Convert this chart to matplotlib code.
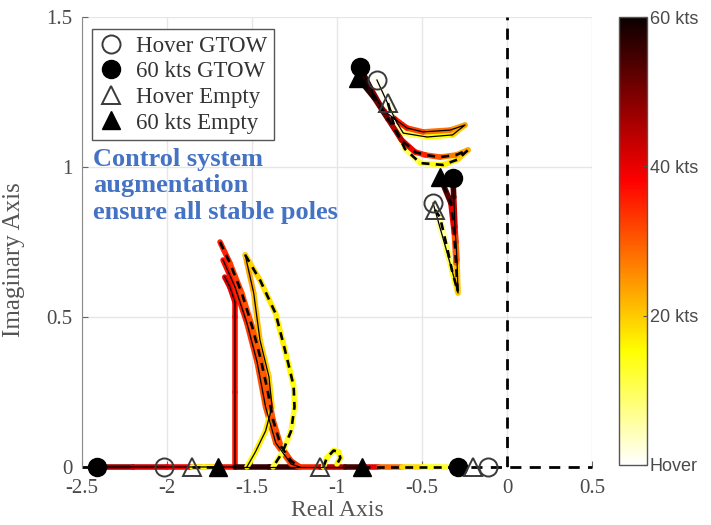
import numpy as np
import matplotlib

matplotlib.use("Agg")

import matplotlib.pyplot as plt
from matplotlib.cm import ScalarMappable
from matplotlib.collections import LineCollection
from matplotlib.colors import Normalize
from matplotlib.lines import Line2D

# ---- data: pole loci (real, imag, airspeed in kts) ----
# upper complex pair, GTOW (solid)
up_gtow_x = [-0.765, -0.70, -0.65, -0.61, -0.47, -0.32, -0.247, -0.335, -0.494, -0.588, -0.66, -0.73, -0.80, -0.865]
up_gtow_y = [1.29, 1.21, 1.15, 1.113, 1.10, 1.107, 1.14, 1.123, 1.117, 1.13, 1.16, 1.19, 1.26, 1.333]
up_gtow_kts = [0, 3, 6, 9, 13, 17, 22, 26, 30, 34, 38, 44, 52, 60]
# upper complex pair, Empty (dashed)
up_empty_x = [-0.70, -0.66, -0.60, -0.51, -0.376, -0.29, -0.229, -0.30, -0.394, -0.48, -0.541, -0.62, -0.70, -0.78, -0.876]
up_empty_y = [1.213, 1.13, 1.06, 1.013, 1.007, 1.025, 1.057, 1.04, 1.033, 1.04, 1.05, 1.09, 1.16, 1.23, 1.297]
up_empty_kts = [0, 4, 8, 12, 15, 18, 21, 25, 29, 33, 37, 42, 48, 54, 60]
# lower complex pair
lo_gtow_x = [-0.435, -0.40, -0.36, -0.324, -0.288, -0.294, -0.30, -0.306, -0.313, -0.318]
lo_gtow_y = [0.88, 0.81, 0.73, 0.657, 0.58, 0.69, 0.75, 0.80, 0.90, 0.963]
lo_gtow_kts = [0, 4, 8, 12, 16, 26, 32, 38, 48, 60]
lo_empty_x = [-0.424, -0.394, -0.353, -0.324, -0.29, -0.30, -0.31, -0.33, -0.394]
lo_empty_y = [0.857, 0.833, 0.733, 0.657, 0.585, 0.68, 0.78, 0.88, 0.967]
lo_empty_kts = [0, 4, 8, 12, 16, 25, 35, 45, 60]
# low-frequency branches near the real axis
lf_red_x = [-2.41, -2.2, -2.0, -1.8, -1.60, -1.60, -1.60, -1.60, -1.63, -1.66]
lf_red_y = [0.0, 0.0, 0.0, 0.0, 0.0, 0.25, 0.50, 0.55, 0.60, 0.633]
lf_red_kts = [50, 45, 40, 38, 36, 36, 37, 38, 40, 42]
lf_dark_x = [-1.60, -1.40, -1.23]
lf_dark_y = [0.0, 0.0, 0.0]
lf_dark_kts = [56, 56, 55]
lf_orange_x = [-1.67, -1.60, -1.53, -1.47, -1.42, -1.36, -1.27, -1.22]
lf_orange_y = [0.69, 0.60, 0.48, 0.35, 0.20, 0.08, 0.01, 0.0]
lf_orange_kts = [38, 36, 34, 32, 30, 30, 32, 34]
lf_yellow_x = [-1.54, -1.49, -1.453, -1.40, -1.382, -1.42, -1.48, -1.53]
lf_yellow_y = [0.707, 0.58, 0.423, 0.30, 0.20, 0.12, 0.05, 0.0]
lf_yellow_kts = [24, 22, 20, 19, 18, 17, 16, 15]
lf_odash_x = [-1.688, -1.63, -1.56, -1.50, -1.45, -1.41, -1.376, -1.33, -1.27, -1.218]
lf_odash_y = [0.75, 0.68, 0.58, 0.47, 0.363, 0.26, 0.157, 0.07, 0.02, 0.0]
lf_odash_kts = [36, 34, 32, 30, 30, 30, 31, 32, 33, 35]
lf_ydash_x = [-1.54, -1.45, -1.36, -1.294, -1.255, -1.25, -1.27, -1.32, -1.376]
lf_ydash_y = [0.707, 0.62, 0.51, 0.363, 0.27, 0.20, 0.12, 0.05, 0.0]
lf_ydash_kts = [20, 18, 17, 16, 15, 14, 13, 12, 12]
arc_x = [-1.08, -1.06, -1.02, -0.99, -0.98, -1.0]
arc_y = [0.0, 0.03, 0.055, 0.05, 0.03, 0.01]
arc_kts = [14, 14, 15, 15, 16, 16]
ax_empty_x = [-1.85, -1.78, -1.70]
ax_empty_y = [0.0, 0.0, 0.0]
ax_empty_kts = [12, 14, 16]
ax_mid_x = [-1.22, -1.10, -0.95, -0.85]
ax_mid_y = [0.0, 0.0, 0.0, 0.0]
ax_mid_kts = [32, 38, 50, 58]
ax_right_x = [-0.85, -0.75, -0.62, -0.50, -0.40, -0.29]
ax_right_y = [0.0, 0.0, 0.0, 0.0, 0.0, 0.0]
ax_right_kts = [45, 35, 22, 15, 13, 12]

solid_curves = [
    (up_gtow_x, up_gtow_y, up_gtow_kts),
    (lo_gtow_x, lo_gtow_y, lo_gtow_kts),
    (lf_red_x, lf_red_y, lf_red_kts),
    (lf_dark_x, lf_dark_y, lf_dark_kts),
    (lf_orange_x, lf_orange_y, lf_orange_kts),
    (lf_yellow_x, lf_yellow_y, lf_yellow_kts),
    (ax_mid_x, ax_mid_y, ax_mid_kts),
]
dashed_curves = [
    (up_empty_x, up_empty_y, up_empty_kts),
    (lo_empty_x, lo_empty_y, lo_empty_kts),
    (lf_odash_x, lf_odash_y, lf_odash_kts),
    (lf_ydash_x, lf_ydash_y, lf_ydash_kts),
    (arc_x, arc_y, arc_kts),
    (ax_empty_x, ax_empty_y, ax_empty_kts),
    (ax_right_x, ax_right_y, ax_right_kts),
]

# end-point poles
hover_gtow_x = [-2.02, -0.11, -0.765, -0.435]
hover_gtow_y = [0.0, 0.0, 1.29, 0.88]
fast_gtow_x = [-2.41, -0.29, -0.865, -0.318]
fast_gtow_y = [0.0, 0.0, 1.333, 0.963]
hover_empty_x = [-1.85, -1.10, -0.20, -0.70, -0.424]
hover_empty_y = [0.0, 0.0, 0.0, 1.213, 0.857]
fast_empty_x = [-1.70, -0.85, -0.876, -0.394]
fast_empty_y = [0.0, 0.0, 1.297, 0.967]

speed_ticks = [0, 20, 40, 60]
speed_labels = ["Hover", "20 kts", "40 kts", "60 kts"]

SERIF = ["Liberation Serif", "DejaVu Serif"]
GRAY = "#4a4a4a"
norm = Normalize(0, 60)
cmap = plt.get_cmap("hot_r")


def draw_curve(ax, x, y, kts, dashed):
    pts = np.column_stack([x, y])
    segs = np.stack([pts[:-1], pts[1:]], axis=1)
    kts = np.asarray(kts, dtype=float)
    lc = LineCollection(segs, cmap=cmap, norm=norm, linewidths=4.0, capstyle="round",
                        joinstyle="round", zorder=3, clip_on=False)
    lc.set_array((kts[:-1] + kts[1:]) / 2)
    ax.add_collection(lc)
    if dashed:
        ax.plot(x, y, color="k", lw=1.9, ls=(0, (3, 2.4)), zorder=4, clip_on=False)
    else:
        ax.plot(x, y, color="k", lw=0.9, zorder=4, clip_on=False)


fig = plt.figure(figsize=(7.11, 5.25), dpi=100)
ax = fig.add_axes([0.1153, 0.1105, 0.7173, 0.8571])
ax.set_xlim(-2.5, 0.5)
ax.set_ylim(0, 1.5)

ax.grid(True, color="#e6e6e6", lw=1.0, zorder=0)
ax.set_axisbelow(True)
for side in ("top", "right", "bottom"):
    ax.spines[side].set_visible(False)
ax.spines["left"].set_color("#8c8c8c")

ax.axvline(0, color="k", lw=2.0, ls=(0, (4, 3)), zorder=2)
ax.axhline(0, color="k", lw=2.0, ls=(0, (4, 3)), zorder=2, clip_on=False)

for x, y, k in solid_curves:
    draw_curve(ax, x, y, k, dashed=False)
for x, y, k in dashed_curves:
    draw_curve(ax, x, y, k, dashed=True)

ms = 13
ax.plot(hover_gtow_x, hover_gtow_y, "o", ms=ms, mfc="none", mec="#3a3a3a", mew=1.4, ls="none", zorder=6, clip_on=False)
ax.plot(fast_gtow_x, fast_gtow_y, "o", ms=ms, mfc="k", mec="k", ls="none", zorder=6, clip_on=False)
ax.plot(hover_empty_x, hover_empty_y, "^", ms=ms, mfc="none", mec="#3a3a3a", mew=1.4, ls="none", zorder=6, clip_on=False)
ax.plot(fast_empty_x, fast_empty_y, "^", ms=ms, mfc="k", mec="k", ls="none", zorder=6, clip_on=False)

ax.set_xticks([-2.5, -2, -1.5, -1, -0.5, 0, 0.5])
ax.set_xticklabels(["-2.5", "-2", "-1.5", "-1", "-0.5", "0", "0.5"])
ax.set_yticks([0, 0.5, 1, 1.5])
ax.set_yticklabels(["0", "0.5", "1", "1.5"])
ax.tick_params(direction="in", length=4, color="#666666", labelcolor=GRAY, labelsize=15)
ax.tick_params(axis="x", pad=9)
ax.tick_params(axis="y", pad=7)
for lbl in ax.get_xticklabels() + ax.get_yticklabels():
    lbl.set_family(SERIF)

ax.set_xlabel("Real Axis", family=SERIF, fontsize=17, color="#555555", labelpad=1)
ax.set_ylabel("Imaginary Axis", family=SERIF, fontsize=18, color="#555555", labelpad=8)
ax.yaxis.set_label_coords(-0.112, 0.46)

handles = [
    Line2D([], [], marker="o", ms=ms, mfc="none", mec="#3a3a3a", mew=1.4, ls="none"),
    Line2D([], [], marker="o", ms=ms, mfc="k", mec="k", ls="none"),
    Line2D([], [], marker="^", ms=ms, mfc="none", mec="#3a3a3a", mew=1.4, ls="none"),
    Line2D([], [], marker="^", ms=ms, mfc="k", mec="k", ls="none"),
]
leg = ax.legend(handles, ["Hover GTOW", "60 kts GTOW", "Hover Empty", "60 kts Empty"],
                loc="upper left", bbox_to_anchor=(0.02, 0.974), fancybox=False, framealpha=1,
                edgecolor="#555555", handlelength=1.0, handletextpad=0.6, labelspacing=0.2,
                borderpad=0.3, borderaxespad=0, prop={"family": SERIF, "size": 16.5})
leg.get_frame().set_linewidth(1.0)
for t in leg.get_texts():
    t.set_color("#333333")

ax.text(-2.435, 1.065, "Control system\naugmentation\nensure all stable poles", family=SERIF,
        fontsize=19, fontweight="bold", color="#4472c4", va="top", ha="left", linespacing=1.2,
        zorder=7)

cax = fig.add_axes([0.8706, 0.1143, 0.0394, 0.8533])
sm = ScalarMappable(norm=norm, cmap=cmap)
cb = fig.colorbar(sm, cax=cax, ticks=speed_ticks)
cb.ax.set_yticklabels(speed_labels)
cb.outline.set_edgecolor("#555555")
cb.outline.set_linewidth(1.0)
cb.ax.tick_params(direction="in", length=3, color="#555555", labelcolor=GRAY, labelsize=13, pad=2)
for lbl in cb.ax.get_yticklabels():
    lbl.set_family(["Liberation Sans", "DejaVu Sans"])

fig.savefig("out.png", dpi=100)
